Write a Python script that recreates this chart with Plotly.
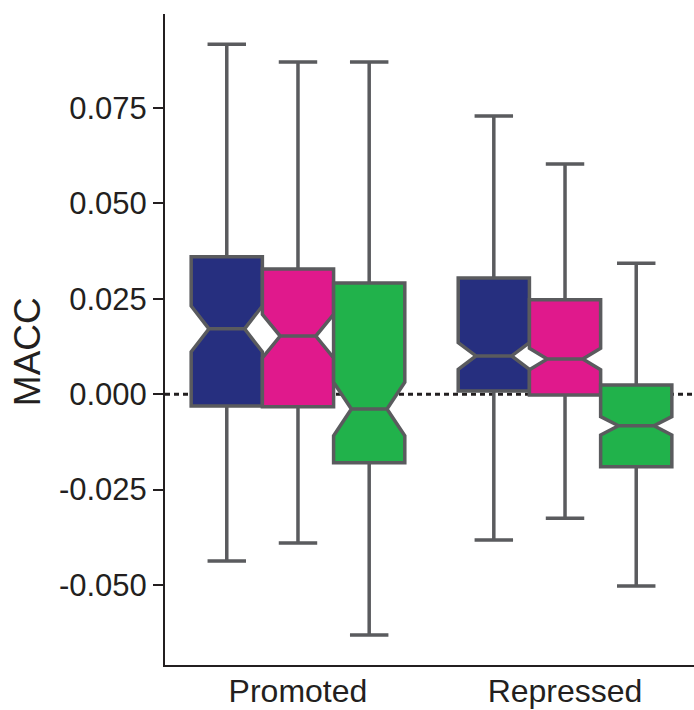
import plotly.graph_objects as go

categories = ["Promoted", "Repressed"]
series_names = ["Series A", "Series B", "Series C"]
series_colors = ["#262f7f", "#e0198c", "#21b24b"]

upper_whisker = {
    "Series A": [0.0917, 0.0729],
    "Series B": [0.0870, 0.0603],
    "Series C": [0.0870, 0.0343],
}
q3_values = {
    "Series A": [0.0360, 0.0304],
    "Series B": [0.0328, 0.0247],
    "Series C": [0.0291, 0.0024],
}
median_values = {
    "Series A": [0.0171, 0.0100],
    "Series B": [0.0152, 0.0092],
    "Series C": [-0.0039, -0.0083],
}
q1_values = {
    "Series A": [-0.0031, 0.0008],
    "Series B": [-0.0033, -0.0002],
    "Series C": [-0.0180, -0.0190],
}
lower_whisker = {
    "Series A": [-0.0437, -0.0382],
    "Series B": [-0.0390, -0.0325],
    "Series C": [-0.0631, -0.0503],
}
notch_half_span = {
    "Series A": [0.0060, 0.0035],
    "Series B": [0.0057, 0.0028],
    "Series C": [0.0070, 0.0024],
}

tick_values = [-0.05, -0.025, 0.0, 0.025, 0.05, 0.075]
tick_labels = ["-0.050", "-0.025", "0.000", "0.025", "0.050", "0.075"]
y_title = "MACC"

FONT = "Arial, Liberation Sans, Helvetica, sans-serif"
TEXT = "#231f20"
EDGE = "#5a5b5e"

fig = go.Figure()
for name, color in zip(series_names, series_colors):
    fig.add_trace(go.Box(
        name=name,
        x=categories,
        q1=q1_values[name],
        median=median_values[name],
        q3=q3_values[name],
        lowerfence=lower_whisker[name],
        upperfence=upper_whisker[name],
        notchspan=notch_half_span[name],
        notched=True,
        notchwidth=0.25,
        whiskerwidth=0.54,
        fillcolor=color,
        line=dict(color=EDGE, width=3.5),
        boxpoints=False,
        showlegend=False,
        hoverinfo="skip",
    ))

fig.add_shape(
    type="line", xref="paper", yref="y", x0=0, x1=1, y0=0, y1=0,
    line=dict(color=TEXT, width=3, dash="5px,4px"), layer="below",
)

fig.add_annotation(
    text=y_title, xref="paper", yref="paper", x=-0.261, y=0.482,
    xanchor="center", yanchor="middle", textangle=-90, showarrow=False,
    font=dict(family=FONT, size=37, color=TEXT),
)

fig.update_layout(
    width=694, height=710,
    margin=dict(l=165, r=0, t=14, b=45),
    paper_bgcolor="white", plot_bgcolor="white",
    boxmode="group", boxgap=0.2, boxgroupgap=0,
    font=dict(family=FONT, size=31, color=TEXT),
    showlegend=False,
)
fig.update_xaxes(
    type="category", range=[-0.498, 1.483],
    showline=True, linecolor=TEXT, linewidth=2,
    showgrid=False, zeroline=False,
    ticks="outside", ticklen=0, tickcolor="rgba(0,0,0,0)",
    ticklabelstandoff=-3,
    tickfont=dict(size=32, color=TEXT), automargin=False,
)
fig.update_yaxes(
    range=[-0.07097, 0.0996],
    tickmode="array", tickvals=tick_values, ticktext=tick_labels,
    showline=True, linecolor=TEXT, linewidth=2,
    showgrid=False, zeroline=False,
    ticks="outside", ticklen=10, tickwidth=2, tickcolor=TEXT,
    tickfont=dict(size=31, color=TEXT),
    automargin=False,
)

fig.write_html(
    "out.html",
    config={"displayModeBar": False},
    post_script="document.body.style.margin='0px';document.body.style.overflow='hidden';",
)
